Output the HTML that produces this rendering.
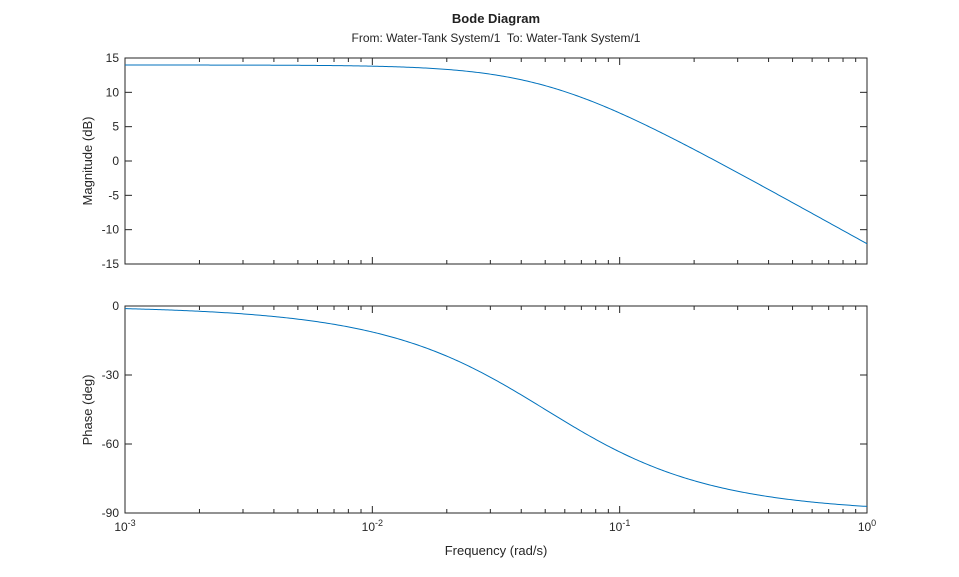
<!DOCTYPE html>
<html><head><meta charset="utf-8"><style>
body{margin:0;background:#fff;}
svg{display:block;font-family:"Liberation Sans",Arial,sans-serif;}
</style></head><body>
<svg id="s" width="959" height="577" viewBox="0 0 959 577" xmlns="http://www.w3.org/2000/svg">
<rect width="959" height="577" fill="#fff"/>
<text x="496" y="23" text-anchor="middle" font-size="13" font-weight="bold" fill="#212121">Bode Diagram</text>
<text x="496" y="42" text-anchor="middle" font-size="12" fill="#262626">From: Water-Tank System/1&#160; To: Water-Tank System/1</text>
<text transform="translate(92,161) rotate(-90)" text-anchor="middle" font-size="13" fill="#262626">Magnitude (dB)</text>
<text transform="translate(92,410) rotate(-90)" text-anchor="middle" font-size="13" fill="#262626">Phase (deg)</text>
<text x="496" y="555" text-anchor="middle" font-size="13" fill="#262626">Frequency (rad/s)</text>
<g id="g"></g>
</svg>
<script>
var X0=125,X1=867,dec=(X1-X0)/3;
function xs(w){return X0+(Math.log10(w)+3)*dec;}
var h='';
var panels=[{t:58,b:264,min:-15,max:15,ticks:[15,10,5,0,-5,-10,-15]},{t:306,b:513,min:-90,max:0,ticks:[0,-30,-60,-90]}];
panels.forEach(function(p,pi){
 function ys(v){return p.b-(v-p.min)/(p.max-p.min)*(p.b-p.t);}
 h+='<rect x="'+X0+'" y="'+p.t+'" width="'+(X1-X0)+'" height="'+(p.b-p.t)+'" fill="none" stroke="#262626" stroke-width="1"/>';
 p.ticks.forEach(function(v){var y=ys(v);
  h+='<line x1="'+X0+'" x2="'+(X0+7)+'" y1="'+y+'" y2="'+y+'" stroke="#262626"/>';
  h+='<line x1="'+X1+'" x2="'+(X1-7)+'" y1="'+y+'" y2="'+y+'" stroke="#262626"/>';
  h+='<text x="'+(X0-6)+'" y="'+(y+4)+'" text-anchor="end" font-size="12" fill="#262626">'+v+'</text>';});
 for(var d=-3;d<=0;d++)for(var k=1;k<=9;k++){var w=k*Math.pow(10,d);if(w>1.0001)break;var x=xs(w);var L=k==1?7:4;
  h+='<line x1="'+x+'" x2="'+x+'" y1="'+p.b+'" y2="'+(p.b-L)+'" stroke="#262626"/>';
  h+='<line x1="'+x+'" x2="'+x+'" y1="'+p.t+'" y2="'+(p.t+L)+'" stroke="#262626"/>';}
 var pts=[];for(var i=0;i<=400;i++){var w=Math.pow(10,-3+3*i/400);var r=w/0.05;
  var v=pi==0?20*Math.log10(5/Math.sqrt(1+r*r)):-Math.atan(r)*180/Math.PI;pts.push(xs(w).toFixed(2)+','+ys(v).toFixed(2));}
 h+='<polyline points="'+pts.join(' ')+'" fill="none" stroke="#0072BD" stroke-width="1"/>';
});
[-3,-2,-1,0].forEach(function(d){var x=xs(Math.pow(10,d));
 h+='<text x="'+x+'" y="531" text-anchor="middle" font-size="12" fill="#262626">10<tspan dy="-5" font-size="9">'+(d==0?'0':d)+'</tspan></text>';});
document.getElementById('g').innerHTML=h;
</script>
</body></html>
